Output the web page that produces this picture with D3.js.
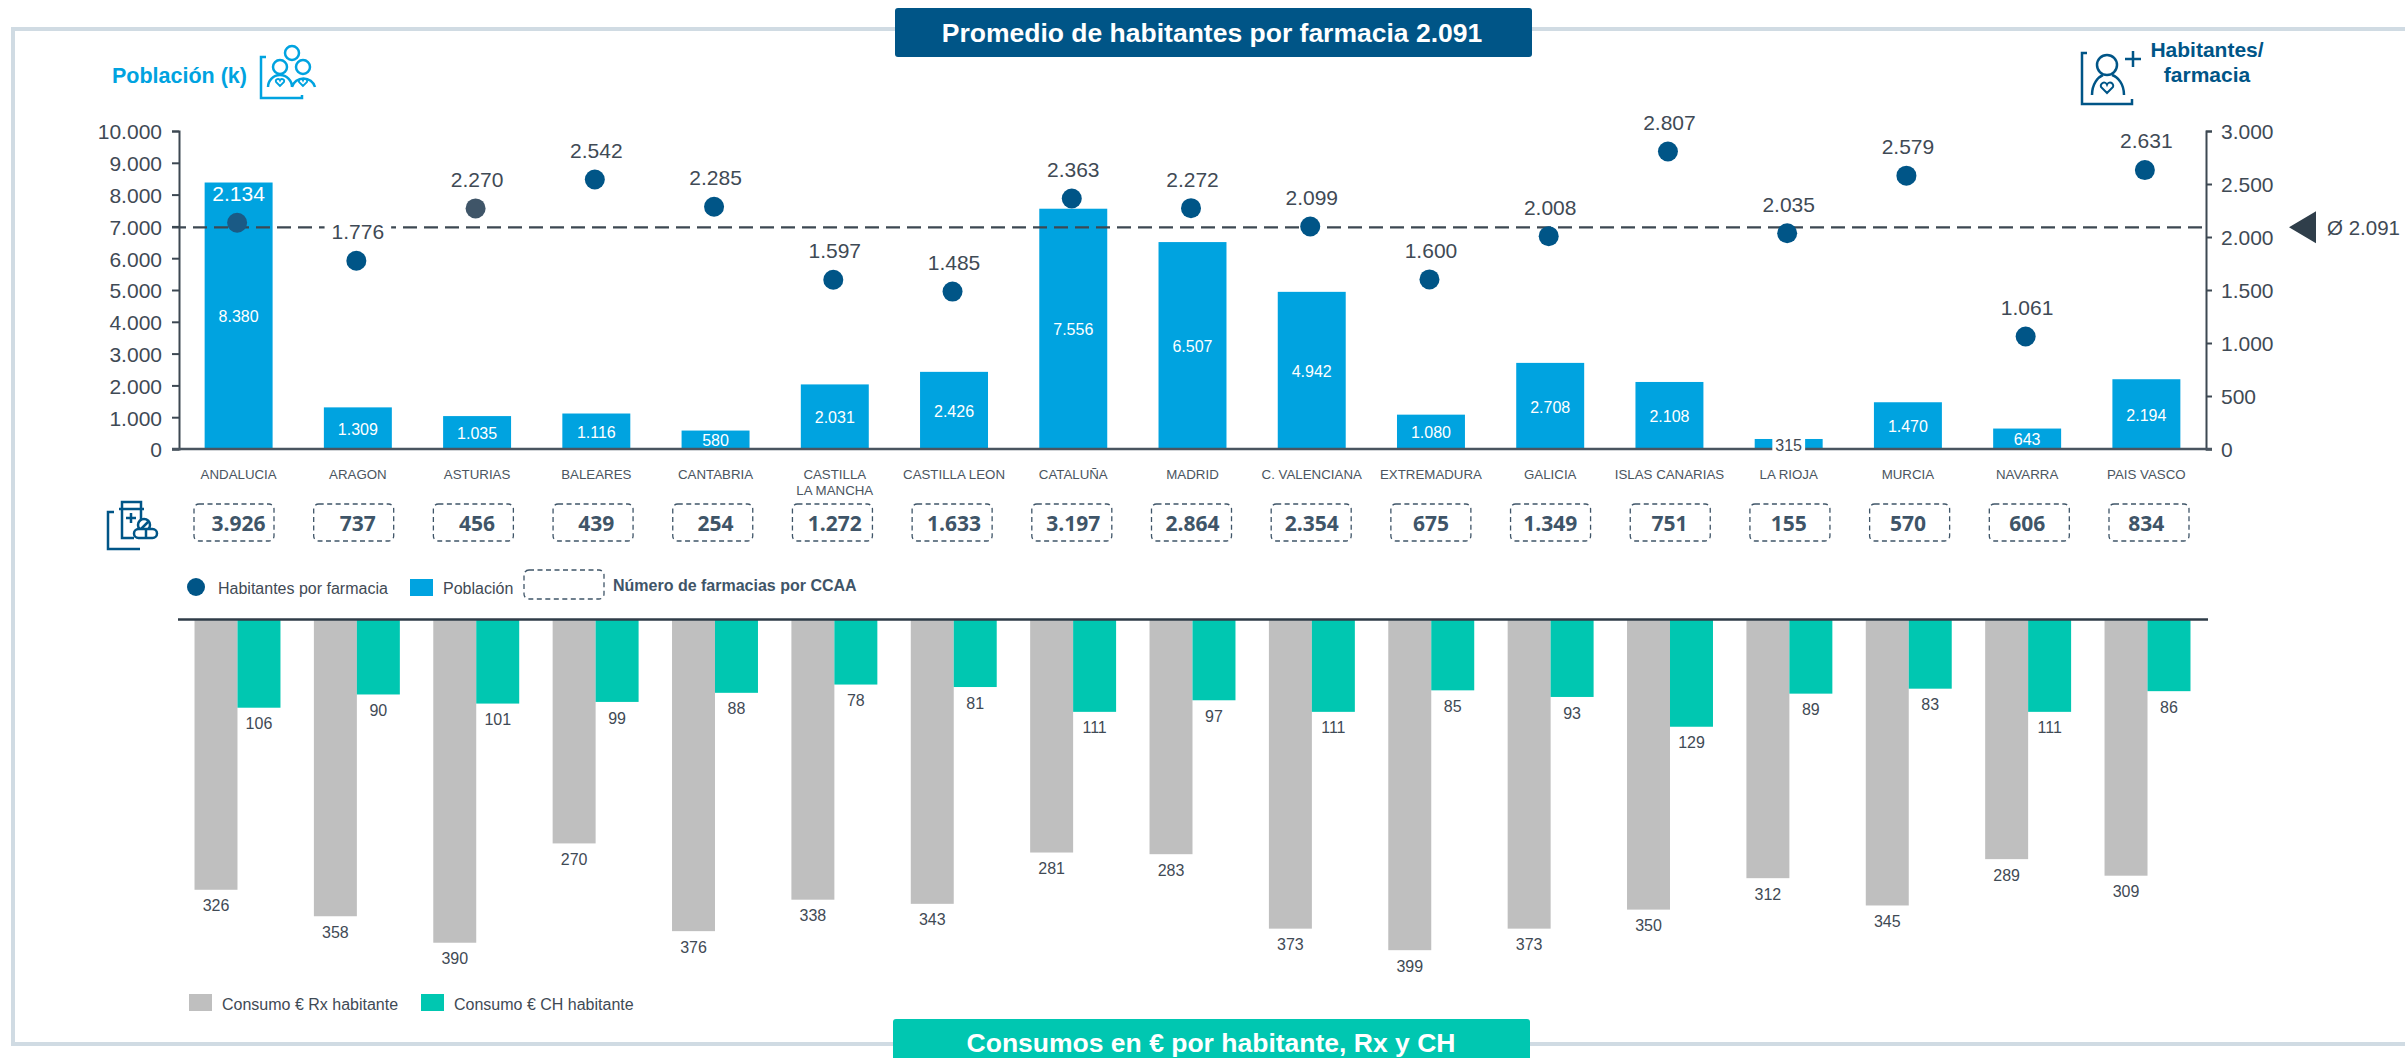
<!DOCTYPE html>
<html lang="es">
<head>
<meta charset="utf-8">
<title>Promedio de habitantes por farmacia</title>
<script src="https://cdn.jsdelivr.net/npm/d3@7"></script>
<style>
  html, body { margin: 0; padding: 0; background: #fff; overflow: hidden; }
  svg { display: block; }
  text { font-family: "Liberation Sans", Arial, sans-serif; }
  .axis path, .axis line { stroke: #3d4852; stroke-width: 2; }
  .axis text { font-family: "Liberation Sans", Arial, sans-serif; font-size: 21px; fill: #3f4a55; }
  .cat-axis text { font-size: 13.3px; fill: #4a5560; }
  .icon { fill: none; stroke-width: 2.5; }
</style>
</head>
<body>
<div id="chart"></div>
<script>
// Values
var regions = ['ANDALUCIA', 'ARAGON', 'ASTURIAS', 'BALEARES', 'CANTABRIA', 'CASTILLA\nLA MANCHA',
               'CASTILLA LEON', 'CATALUÑA', 'MADRID', 'C. VALENCIANA', 'EXTREMADURA', 'GALICIA',
               'ISLAS CANARIAS', 'LA RIOJA', 'MURCIA', 'NAVARRA', 'PAIS VASCO'];
var population = [8380, 1309, 1035, 1116, 580, 2031, 2426, 7556, 6507, 4942, 1080, 2708, 2108, 315, 1470, 643, 2194];
var perPharmacy = [2134, 1776, 2270, 2542, 2285, 1597, 1485, 2363, 2272, 2099, 1600, 2008, 2807, 2035, 2579, 1061, 2631];
var pharmacies = [3926, 737, 456, 439, 254, 1272, 1633, 3197, 2864, 2354, 675, 1349, 751, 155, 570, 606, 834];
var rxSpend = [326, 358, 390, 270, 376, 338, 343, 281, 283, 373, 399, 373, 350, 312, 345, 289, 309];
var chSpend = [106, 90, 101, 99, 88, 78, 81, 111, 97, 111, 85, 93, 129, 89, 83, 111, 86];
var average = 2091;
var leftTicks = [0, 1000, 2000, 3000, 4000, 5000, 6000, 7000, 8000, 9000, 10000];
var rightTicks = [0, 500, 1000, 1500, 2000, 2500, 3000];

var colours = {
  'Blue': '#00a3e0',
  'Navy': '#005587',
  'Slate': '#3f5568',
  'Dark': '#3f4a55',
  'Grey': '#bfbfbf',
  'Teal': '#00c7b1',
  'Frame': '#d0dbe3'
};

var fmt = d3.formatLocale({decimal: ',', thousands: '.', grouping: [3], currency: ['', '']}).format(',d');

var svg = d3.select('#chart')
            .append('svg')
            .attr('width', 2405)
            .attr('height', 1058);

// Frame, open on the right
svg.append('path')
   .attr('d', 'M2405,29H13V1044H2405')
   .attr('fill', 'none')
   .attr('stroke', colours['Frame'])
   .attr('stroke-width', 4);

// Title boxes
svg.append('rect')
   .attr('x', 895).attr('y', 8).attr('width', 637).attr('height', 49).attr('rx', 3)
   .attr('fill', colours['Navy']);
svg.append('text')
   .attr('x', 1212).attr('y', 33).attr('dy', '0.35em')
   .attr('text-anchor', 'middle').attr('font-size', 26.5).attr('font-weight', 'bold').attr('fill', '#fff')
   .text('Promedio de habitantes por farmacia ' + fmt(average));
svg.append('rect')
   .attr('x', 893).attr('y', 1019).attr('width', 637).attr('height', 45).attr('rx', 3)
   .attr('fill', colours['Teal']);
svg.append('text')
   .attr('x', 1211).attr('y', 1043).attr('dy', '0.35em')
   .attr('text-anchor', 'middle').attr('font-size', 26.5).attr('font-weight', 'bold').attr('fill', '#fff')
   .text('Consumos en € por habitante, Rx y CH');

// Scales for the top chart
var x = d3.scaleBand()
          .domain(regions)
          .range([179, 2206])
          .paddingInner(0.43)
          .paddingOuter(0.215);
var yPop = d3.scaleLinear().domain([0, 10000]).range([449, 131]);
var yHab = d3.scaleLinear().domain([0, 3000]).range([449, 131]);

// Population bars
svg.append('g')
   .selectAll('.bar')
   .data(regions)
   .enter()
   .append('rect')
   .attr('class', 'bar')
   .attr('x', function(d) { return x(d); })
   .attr('width', x.bandwidth())
   .attr('y', function(d, i) { return yPop(population[i]); })
   .attr('height', function(d, i) { return yPop(0) - yPop(population[i]); })
   .attr('fill', colours['Blue']);

// Axes
var leftAxis = d3.axisLeft(yPop).tickValues(leftTicks).tickFormat(fmt).tickSize(7).tickPadding(10);
var rightAxis = d3.axisRight(yHab).tickValues(rightTicks).tickFormat(fmt).tickSize(6).tickPadding(9);
var catAxis = d3.axisBottom(x).tickSize(0).tickPadding(21);

svg.append('g').attr('class', 'axis').attr('transform', 'translate(179,0)').call(leftAxis)
   .selectAll('text').attr('dy', '0.38em');
svg.append('g').attr('class', 'axis').attr('transform', 'translate(2206,0)').call(rightAxis)
   .selectAll('text').attr('dy', '0.38em');

var catG = svg.append('g')
              .attr('class', 'axis cat-axis')
              .attr('transform', 'translate(0,449)')
              .call(catAxis);
catG.select('.domain').remove();
catG.selectAll('text').each(function(d) {
  var t = d3.select(this).text(null);
  d.split('\n').forEach(function(line, i) {
    t.append('tspan').attr('x', 0).attr('dy', i == 0 ? '0.71em' : '16px').text(line);
  });
});

svg.append('line')
   .attr('x1', 172).attr('x2', 2212)
   .attr('y1', yPop(0)).attr('y2', yPop(0))
   .attr('stroke', '#4a5560').attr('stroke-width', 2.5);

// Average line and its marker
svg.append('line')
   .attr('x1', 172).attr('x2', 2202)
   .attr('y1', yHab(average)).attr('y2', yHab(average))
   .attr('stroke', '#3d4852').attr('stroke-width', 2.4)
   .attr('stroke-dasharray', '14 7');
svg.append('path')
   .attr('d', d3.line()([[2289, yHab(average)], [2316, yHab(average) - 16], [2316, yHab(average) + 16]]) + 'Z')
   .attr('fill', '#2f3e4a');
svg.append('text')
   .attr('x', 2327).attr('y', yHab(average)).attr('dy', '0.35em')
   .attr('font-size', 20.5).attr('fill', colours['Dark'])
   .text('Ø ' + fmt(average));

// White patch behind a label, over the lines
function patch(node, pad) {
  var b = node.getBBox();
  d3.select(node.parentNode)
    .insert('rect', function() { return node; })
    .attr('x', b.x - pad).attr('y', b.y)
    .attr('width', b.width + pad * 2).attr('height', b.height)
    .attr('fill', '#fff');
}

// Population labels
svg.append('g')
   .selectAll('.pop-label')
   .data(regions)
   .enter()
   .append('text')
   .attr('class', 'pop-label')
   .attr('x', function(d) { return x(d) + x.bandwidth() / 2; })
   .attr('y', function(d, i) { return d == 'LA RIOJA' ? 445 : (yPop(population[i]) + yPop(0)) / 2 + 1; })
   .attr('dy', '0.35em')
   .attr('text-anchor', 'middle')
   .attr('font-size', 16)
   .attr('fill', function(d) { return d == 'LA RIOJA' ? colours['Dark'] : '#fff'; })
   .text(function(d, i) { return fmt(population[i]); })
   .each(function(d) { if (d == 'LA RIOJA') patch(this, 3); });

// Inhabitants per pharmacy
var habG = svg.append('g');
habG.selectAll('.hab-label')
    .data(regions)
    .enter()
    .append('text')
    .attr('class', 'hab-label')
    .attr('x', function(d) { return x(d) + x.bandwidth() / 2; })
    .attr('y', function(d, i) { return yHab(perPharmacy[i]) - 29; })
    .attr('dy', '0.35em')
    .attr('text-anchor', 'middle')
    .attr('font-size', 21)
    .attr('fill', function(d) { return d == 'ANDALUCIA' ? '#fff' : colours['Dark']; })
    .text(function(d, i) { return fmt(perPharmacy[i]); })
    .each(function(d) { if (d == 'ARAGON') patch(this, 7); });

habG.selectAll('.dot')
    .data(regions)
    .enter()
    .append('circle')
    .attr('class', 'dot')
    .attr('cx', function(d) { return x(d) + x.bandwidth() / 2 - 1.5; })
    .attr('cy', function(d, i) { return yHab(perPharmacy[i]); })
    .attr('r', 10)
    .attr('fill', function(d) {
      if (d == 'ASTURIAS') return colours['Slate'];
      if (d == 'ANDALUCIA') return '#1a5a85';
      return colours['Navy'];
    });

// Pharmacy counts, dashed boxes
var boxX = d3.scalePoint().domain(regions).range([234, 2149]);
svg.selectAll('.count-box')
   .data(regions)
   .enter()
   .append('rect')
   .attr('class', 'count-box')
   .attr('x', function(d) { return boxX(d) - 40; })
   .attr('y', 504)
   .attr('width', 80)
   .attr('height', 37)
   .attr('rx', 5)
   .attr('fill', 'none')
   .attr('stroke', colours['Slate'])
   .attr('stroke-width', 1.3)
   .attr('stroke-dasharray', '5 3.5');
svg.selectAll('.count')
   .data(regions)
   .enter()
   .append('text')
   .attr('class', 'count')
   .attr('x', function(d) { return x(d) + x.bandwidth() / 2; })
   .attr('y', 524)
   .attr('dy', '0.35em')
   .attr('text-anchor', 'middle')
   .style('font-family', '"Open Sans", sans-serif')
   .attr('font-size', 21)
   .attr('font-weight', 'bold')
   .attr('fill', colours['Slate'])
   .text(function(d, i) { return fmt(pharmacies[i]); });

// Top legend
svg.append('circle').attr('cx', 196).attr('cy', 587).attr('r', 9).attr('fill', colours['Navy']);
svg.append('text').attr('x', 218).attr('y', 588).attr('dy', '0.35em')
   .attr('font-size', 16).attr('fill', colours['Dark']).text('Habitantes por farmacia');
svg.append('rect').attr('x', 410).attr('y', 579).attr('width', 23).attr('height', 17).attr('fill', colours['Blue']);
svg.append('text').attr('x', 443).attr('y', 588).attr('dy', '0.35em')
   .attr('font-size', 16).attr('fill', colours['Dark']).text('Población');
svg.append('rect').attr('x', 524).attr('y', 570).attr('width', 80).attr('height', 29).attr('rx', 5)
   .attr('fill', 'none').attr('stroke', colours['Slate']).attr('stroke-width', 1.3).attr('stroke-dasharray', '5 3.5');
svg.append('text').attr('x', 613).attr('y', 585).attr('dy', '0.35em')
   .attr('font-size', 16).attr('font-weight', 'bold').attr('fill', colours['Slate']).text('Número de farmacias por CCAA');

// Bottom chart, bars hang from the divider
var x0 = d3.scaleBand()
           .domain(regions)
           .range([177.8, 2207.2])
           .paddingInner(0.28)
           .paddingOuter(0.14);
var x1 = d3.scaleBand().domain(['rx', 'ch']).range([0, x0.bandwidth()]);
var ySpend = d3.scaleLinear().domain([0, 400]).range([620, 951]);

var series = [
  {key: 'rx', values: rxSpend, colour: colours['Grey']},
  {key: 'ch', values: chSpend, colour: colours['Teal']}
];

series.forEach(function(s) {
  var g = svg.append('g');
  g.selectAll('rect')
   .data(regions)
   .enter()
   .append('rect')
   .attr('x', function(d) { return x0(d) + x1(s.key); })
   .attr('width', x1.bandwidth())
   .attr('y', ySpend(0))
   .attr('height', function(d, i) { return ySpend(s.values[i]) - ySpend(0); })
   .attr('fill', s.colour);
  g.selectAll('text')
   .data(regions)
   .enter()
   .append('text')
   .attr('x', function(d) { return x0(d) + x1(s.key) + x1.bandwidth() / 2; })
   .attr('y', function(d, i) { return ySpend(s.values[i]) + 16; })
   .attr('dy', '0.35em')
   .attr('text-anchor', 'middle')
   .attr('font-size', 16)
   .attr('fill', colours['Dark'])
   .text(function(d, i) { return s.values[i]; });
});

svg.append('line')
   .attr('x1', 178).attr('x2', 2208)
   .attr('y1', 619.5).attr('y2', 619.5)
   .attr('stroke', '#2f3c48').attr('stroke-width', 2.5);

// Bottom legend
svg.append('rect').attr('x', 189).attr('y', 994).attr('width', 23).attr('height', 17).attr('fill', colours['Grey']);
svg.append('text').attr('x', 222).attr('y', 1004).attr('dy', '0.35em')
   .attr('font-size', 16).attr('fill', colours['Dark']).text('Consumo € Rx habitante');
svg.append('rect').attr('x', 421).attr('y', 994).attr('width', 23).attr('height', 17).attr('fill', colours['Teal']);
svg.append('text').attr('x', 454).attr('y', 1004).attr('dy', '0.35em')
   .attr('font-size', 16).attr('fill', colours['Dark']).text('Consumo € CH habitante');

// Header labels
svg.append('text').attr('x', 112).attr('y', 75).attr('dy', '0.35em')
   .attr('font-size', 21.5).attr('font-weight', 'bold').attr('fill', colours['Blue']).text('Población (k)');
svg.append('text').attr('x', 2207).attr('y', 50).attr('dy', '0.35em').attr('text-anchor', 'middle')
   .attr('font-size', 21).attr('font-weight', 'bold').attr('fill', colours['Navy']).text('Habitantes/');
svg.append('text').attr('x', 2207).attr('y', 75).attr('dy', '0.35em').attr('text-anchor', 'middle')
   .attr('font-size', 21).attr('font-weight', 'bold').attr('fill', colours['Navy']).text('farmacia');

// Icons
function heart(cx, cy, s) {
  return 'M' + cx + ',' + (cy + s) +
         'L' + (cx - s) + ',' + cy +
         'A' + (s * 0.5) + ',' + (s * 0.5) + ' 0 0 1 ' + cx + ',' + (cy - s * 0.4) +
         'A' + (s * 0.5) + ',' + (s * 0.5) + ' 0 0 1 ' + (cx + s) + ',' + cy + 'Z';
}

var people = svg.append('g').attr('class', 'icon').attr('stroke', colours['Blue']);
people.append('path').attr('d', 'M266,57H261V98H302V95');
[[292, 53], [280, 67], [303, 67]].forEach(function(c) {
  people.append('circle').attr('cx', c[0]).attr('cy', c[1]).attr('r', 7);
});
people.append('path').attr('d', 'M268,87A12,12 0 0 1 292,87M292,87A12,12 0 0 1 315,87');
people.append('path').attr('stroke-width', 1.8).attr('d', heart(280, 82, 4) + heart(303, 82, 4));

var person = svg.append('g').attr('class', 'icon').attr('stroke', colours['Navy']);
person.append('path').attr('d', 'M2087,53H2082V104H2132V99');
person.append('circle').attr('cx', 2107).attr('cy', 65).attr('r', 10);
person.append('path').attr('d', 'M2092,95C2092,84 2098,77 2103,75M2124,95C2124,84 2118,77 2112,75');
person.append('path').attr('stroke-width', 2).attr('d', heart(2107, 87, 6));
person.append('path').attr('d', 'M2133,51V67M2125,59H2141');

var pills = svg.append('g').attr('class', 'icon').attr('stroke', colours['Navy']);
pills.append('path').attr('d', 'M114,512H108V549H140');
pills.append('path').attr('d', 'M122,509V502H141V509M119,509H144M122,509V538H134M141,509V520');
pills.append('path').attr('d', 'M131,513V523M126,518H136');
pills.append('circle').attr('cx', 144).attr('cy', 525).attr('r', 6);
pills.append('path').attr('d', 'M140,530L149,521');
pills.append('rect').attr('x', 134).attr('y', 529).attr('width', 23).attr('height', 9).attr('rx', 4.5).attr('fill', '#fff');
pills.append('path').attr('d', 'M146,529V538');
</script>
</body>
</html>
